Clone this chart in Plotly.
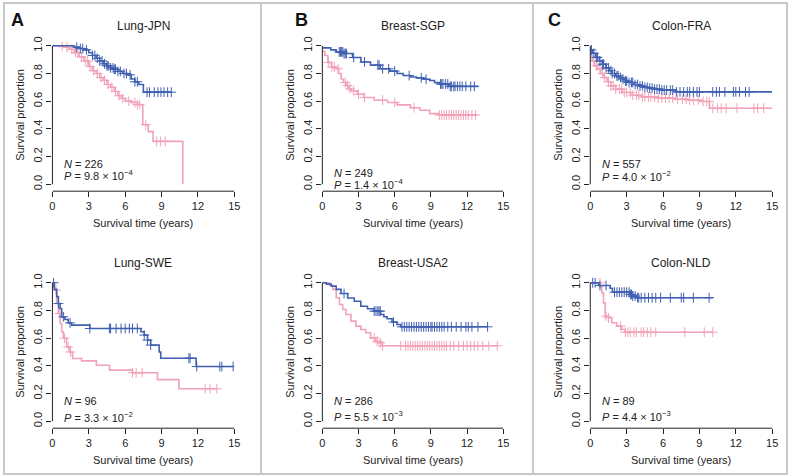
import plotly.graph_objects as go

# panel titles / stats (reading order: top row A B C, bottom row A B C)
titles = ["Lung-JPN", "Breast-SGP", "Colon-FRA", "Lung-SWE", "Breast-USA2", "Colon-NLD"]
n_values = [226, 249, 557, 96, 286, 89]
p_mant = ["9.8", "1.4", "4.0", "3.3", "5.5", "4.4"]
p_exp = ["4", "4", "2", "2", "3", "3"]
letters = ["A", "B", "C"]
x_ticks = [0, 3, 6, 9, 12, 15]
y_ticks = [0.0, 0.2, 0.4, 0.6, 0.8, 1.0]

# Lung-JPN
a_blue_t = [0, 1.8, 2.2, 2.6, 3.0, 3.3, 3.6, 3.9, 4.2, 4.5, 4.8, 5.1, 5.4, 5.8, 6.2, 6.5, 6.8, 7.1, 7.5, 9.8]
a_blue_s = [1.0, 0.99, 0.98, 0.97, 0.95, 0.93, 0.91, 0.89, 0.87, 0.855, 0.84, 0.83, 0.815, 0.80, 0.79, 0.76, 0.74, 0.72, 0.665, 0.665]
a_blue_c = [2.0, 2.3, 2.5, 2.8, 3.3, 3.5, 3.7, 3.9, 4.1, 4.3, 4.5, 4.6, 4.8, 5.0, 5.1, 5.2, 5.4, 5.6, 5.9, 6.1, 6.4, 6.8, 7.0,
            7.8, 8.0, 8.4, 8.7, 8.95, 9.2, 9.5, 9.8]
a_pink_t = [0, 0.6, 1.0, 1.4, 1.8, 2.2, 2.6, 3.0, 3.3, 3.6, 3.9, 4.2, 4.5, 4.8, 5.1, 5.4, 5.7, 6.0, 6.5, 7.0, 7.45, 7.9, 8.3, 10.75]
a_pink_s = [1.0, 0.995, 0.99, 0.975, 0.95, 0.92, 0.89, 0.85, 0.82, 0.80, 0.77, 0.75, 0.72, 0.70, 0.67, 0.64, 0.62, 0.60, 0.59, 0.575, 0.43, 0.38, 0.31, 0.0]
a_pink_c = [0.8, 1.2, 1.6, 1.9, 2.1, 2.4, 2.7, 2.9, 3.1, 3.4, 3.7, 4.0, 4.3, 4.6, 4.9, 5.2, 5.5, 5.8, 6.3, 6.8, 7.0, 7.2,
            7.7, 8.6, 8.9, 9.3]

# Breast-SGP
b_blue_t = [0, 0.7, 1.15, 1.8, 2.5, 3.2, 4.0, 4.8, 5.6, 6.2, 6.7, 7.3, 7.8, 8.4, 8.9, 9.3, 9.7, 10.5, 12.9]
b_blue_s = [0.985, 0.97, 0.956, 0.944, 0.915, 0.883, 0.86, 0.834, 0.817, 0.80, 0.785, 0.775, 0.768, 0.758, 0.749, 0.735, 0.724, 0.707, 0.707]
b_blue_c = [1.4, 1.5, 1.6, 1.7, 1.8, 1.9, 2.0, 2.6, 3.5, 4.6, 4.7, 5.0, 5.5, 6.0, 7.2, 8.2, 8.6, 9.8, 9.9, 10.0, 10.2, 10.4,
            10.6, 10.7, 10.9, 11.0, 11.2, 11.4, 11.6, 11.9, 12.3, 12.6]
b_pink_t = [0, 0.2, 0.46, 0.74, 1.15, 1.35, 1.55, 1.75, 1.96, 2.2, 2.4, 2.9, 3.46, 4.3, 5.4, 6.2, 7.3, 8.1, 8.9, 9.7, 12.8]
b_pink_s = [0.96, 0.93, 0.88, 0.846, 0.834, 0.80, 0.76, 0.735, 0.712, 0.69, 0.675, 0.65, 0.627, 0.607, 0.59, 0.573, 0.553, 0.534, 0.51, 0.50, 0.50]
b_pink_c = [0.5, 0.8, 1.0, 1.3, 1.9, 2.1, 2.3, 2.6, 3.0, 3.5, 5.0, 6.0, 7.6, 9.7, 9.9, 10.1, 10.3, 10.5, 10.7, 10.9, 11.1,
            11.3, 11.5, 11.7, 11.9, 12.1, 12.4, 12.7]

# Colon-FRA
c_blue_t = [0, 0.2, 0.46, 0.75, 1.0, 1.3, 1.55, 1.8, 2.1, 2.4, 2.64, 2.9, 3.2, 3.6, 4.0, 4.4, 4.8, 5.3, 5.9, 7.0, 15.0]
c_blue_s = [0.97, 0.945, 0.916, 0.89, 0.867, 0.84, 0.82, 0.80, 0.783, 0.77, 0.759, 0.745, 0.735, 0.72, 0.71, 0.70, 0.694, 0.687, 0.68, 0.667, 0.667]
c_blue_c = [0.1, 0.3, 0.5, 0.6, 0.8, 1.0, 1.1, 1.3, 1.5, 1.7, 1.8, 2.0, 2.2, 2.3, 2.5, 2.7, 2.9, 3.0, 3.2, 3.4, 3.5, 3.7,
            3.9, 4.1, 4.3, 4.5, 4.7, 4.9, 5.1, 5.3, 5.5, 5.7, 5.9, 6.1, 6.3, 6.6, 6.8, 7.1, 7.4, 7.7, 8.0, 8.2, 8.5,
            8.8, 9.0, 10.1, 10.4, 10.65, 11.1, 11.8, 12.0, 12.3, 12.8, 13.1]
c_pink_t = [0, 0.15, 0.33, 0.6, 0.85, 1.14, 1.4, 1.7, 2.1, 2.64, 3.45, 4.27, 5.6, 7.0, 8.07, 9.16, 9.84, 15.0]
c_pink_s = [0.928, 0.89, 0.855, 0.83, 0.80, 0.77, 0.74, 0.71, 0.687, 0.663, 0.643, 0.631, 0.622, 0.614, 0.607, 0.598, 0.549, 0.549]
c_pink_c = [0.3, 0.5, 0.8, 1.0, 1.2, 1.5, 1.7, 1.9, 2.1, 2.4, 2.6, 2.8, 3.0, 3.3, 3.5, 3.8, 4.0, 4.3, 4.5, 4.8, 5.0, 5.3,
            5.6, 5.9, 6.2, 6.5, 6.8, 7.2, 7.6, 7.9, 8.2, 8.5, 8.9, 9.3, 9.6, 9.8, 10.1, 10.5, 10.8, 11.2, 12.1, 13.5,
            13.8, 14.3]

# Lung-SWE
d_blue_t = [0, 0.16, 0.35, 0.49, 0.63, 0.76, 1.03, 1.3, 1.58, 3.08, 7.3, 7.57, 7.84, 8.1, 8.8, 8.93, 11.85, 14.9]
d_blue_s = [1.0, 0.952, 0.9, 0.85, 0.814, 0.754, 0.735, 0.71, 0.694, 0.67, 0.646, 0.622, 0.586, 0.55, 0.5, 0.455, 0.395, 0.395]
d_blue_c = [0.1, 0.5, 0.9, 1.45, 3.08, 4.7, 4.8, 5.25, 5.66, 6.0, 6.34, 6.6, 7.0, 7.57, 7.84, 8.1, 11.25, 11.35, 11.9,
            13.8, 13.97, 14.9]
d_pink_t = [0, 0.16, 0.35, 0.49, 0.63, 0.76, 0.9, 1.17, 1.44, 1.66, 2.4, 3.62, 4.71, 6.6, 8.66, 10.43, 13.6]
d_pink_s = [1.0, 0.947, 0.85, 0.778, 0.706, 0.646, 0.6, 0.537, 0.5, 0.453, 0.436, 0.405, 0.369, 0.35, 0.301, 0.235, 0.235]
d_pink_c = [0.3, 0.6, 1.0, 1.3, 1.5, 6.6, 6.9, 7.4, 12.6, 13.0, 13.55]

# Breast-USA2
e_blue_t = [0, 0.33, 0.74, 1.15, 1.55, 2.1, 2.65, 3.19, 3.74, 4.28, 4.83, 5.1, 5.37, 5.78, 6.19, 6.5, 13.7]
e_blue_s = [1.0, 0.99, 0.976, 0.952, 0.922, 0.89, 0.867, 0.83, 0.812, 0.795, 0.771, 0.755, 0.74, 0.716, 0.699, 0.682, 0.682]
e_blue_c = [1.8, 4.3, 4.45, 4.6, 4.7, 4.8, 5.9, 6.6, 6.8, 7.0, 7.2, 7.4, 7.6, 7.8, 8.0, 8.2, 8.4, 8.6, 8.8, 9.0, 9.1, 9.3,
            9.5, 9.7, 9.9, 10.1, 10.4, 10.7, 11.1, 11.5, 11.9, 12.1, 12.4, 12.9, 13.7]
e_pink_t = [0, 0.6, 0.87, 1.15, 1.42, 1.69, 1.96, 2.37, 2.78, 3.19, 3.6, 4.0, 4.42, 4.69, 4.96, 14.5]
e_pink_s = [1.0, 0.98, 0.952, 0.892, 0.843, 0.807, 0.771, 0.723, 0.687, 0.663, 0.639, 0.602, 0.578, 0.566, 0.545, 0.545]
e_pink_c = [4.3, 4.55, 4.8, 5.0, 6.5, 6.9, 7.1, 7.3, 7.5, 7.7, 7.9, 8.1, 8.3, 8.5, 8.7, 8.9, 9.1, 9.3, 9.5, 9.7, 9.9,
            10.1, 10.3, 10.6, 10.9, 11.3, 11.7, 12.0, 12.3, 12.6, 12.9, 13.3, 13.8, 14.5]

# Colon-NLD
f_blue_t = [0, 0.68, 1.64, 1.83, 3.27, 3.46, 3.82, 10.1]
f_blue_s = [1.0, 0.98, 0.96, 0.932, 0.916, 0.904, 0.892, 0.892]
f_blue_c = [0.2, 0.4, 0.8, 1.3, 2.0, 2.2, 2.4, 2.6, 2.8, 3.0, 3.2, 3.3, 3.4, 3.5, 3.7, 3.9, 4.0, 4.2, 4.5, 4.8, 5.1,
            5.4, 5.8, 6.6, 7.5, 7.7, 8.5, 9.8]
f_pink_t = [0, 0.82, 0.95, 1.09, 1.23, 1.5, 1.77, 2.18, 2.59, 2.86, 10.1]
f_pink_s = [1.0, 0.97, 0.928, 0.855, 0.759, 0.747, 0.711, 0.687, 0.663, 0.643, 0.643]
f_pink_c = [0.8, 1.3, 1.5, 2.5, 2.9, 3.1, 3.3, 3.6, 3.8, 4.2, 4.4, 4.7, 5.0, 5.4, 7.8, 9.4, 10.1]

curves = [
    (a_blue_t, a_blue_s, a_blue_c, a_pink_t, a_pink_s, a_pink_c),
    (b_blue_t, b_blue_s, b_blue_c, b_pink_t, b_pink_s, b_pink_c),
    (c_blue_t, c_blue_s, c_blue_c, c_pink_t, c_pink_s, c_pink_c),
    (d_blue_t, d_blue_s, d_blue_c, d_pink_t, d_pink_s, d_pink_c),
    (e_blue_t, e_blue_s, e_blue_c, e_pink_t, e_pink_s, e_pink_c),
    (f_blue_t, f_blue_s, f_blue_c, f_pink_t, f_pink_s, f_pink_c),
]

BLUE = "#3f5fb0"
PINK = "#f2a2b8"
FONT = "Liberation Sans, Arial, sans-serif"
W, H = 794, 476

# pixel layout of the plot regions
col_px = [(50, 234), (323, 506), (594, 778)]
row_px = [(37, 190), (275, 428)]
text_y = [(0.15, 0.065), (0.08, 0.0), (0.145, 0.06), (0.15, 0.03), (0.145, 0.035), (0.145, 0.04)]


def surv_at(ts, ss, t):
    val = ss[0]
    for ti, si in zip(ts, ss):
        if ti <= t:
            val = si
    return val


fig = go.Figure()
layout = {}
shapes = []
annotations = []

for i in range(6):
    r, c = divmod(i, 3)
    n = i + 1
    sfx = "" if n == 1 else str(n)
    xa, ya = "x" + sfx, "y" + sfx
    x0, x1 = col_px[c]
    y0, y1 = row_px[r]
    bt, bs, bc, pt, ps, pc = curves[i]

    for t, s, cens, col in [(pt, ps, pc, PINK), (bt, bs, bc, BLUE)]:
        fig.add_trace(go.Scatter(x=t, y=s, mode="lines", line=dict(color=col, width=1.6, shape="hv"),
                                 xaxis=xa, yaxis=ya, showlegend=False, hoverinfo="skip"))
        fig.add_trace(go.Scatter(x=cens, y=[surv_at(t, s, v) for v in cens], mode="markers",
                                 marker=dict(symbol="cross-thin", size=7, line=dict(color=col, width=1)),
                                 xaxis=xa, yaxis=ya, showlegend=False, hoverinfo="skip"))

    layout["xaxis" + sfx] = dict(domain=[x0 / W, x1 / W], range=[0, 15], anchor=ya, showline=False,
                                 showgrid=False, zeroline=False, ticks="outside", ticklen=5, tickwidth=1,
                                 tickcolor="#222", tickvals=x_ticks, tickfont=dict(size=11, color="#222"))
    layout["yaxis" + sfx] = dict(domain=[1 - y1 / H, 1 - y0 / H], range=[-0.05, 1.05], anchor=xa, showline=False,
                                 showgrid=False, zeroline=False, ticks="outside", ticklen=5, tickwidth=1,
                                 tickcolor="#222", tickvals=y_ticks, tickformat=".1f", tickangle=-90,
                                 tickfont=dict(size=11, color="#222"))

    # R-style axis lines spanning only the tick range
    shapes.append(dict(type="line", xref=xa, yref=ya + " domain", x0=0, x1=15, y0=0, y1=0,
                       line=dict(color="#222", width=1)))
    shapes.append(dict(type="line", xref=xa + " domain", yref=ya, x0=0, x1=0, y0=0, y1=1,
                       line=dict(color="#222", width=1)))

    cx = (x0 + x1) / 2 / W
    annotations.append(dict(text=titles[i], x=cx, y=1 - (y0 - 13) / H, xref="paper", yref="paper",
                            xanchor="center", yanchor="middle", showarrow=False, font=dict(size=12, color="#222")))
    annotations.append(dict(text="Survival time (years)", x=cx, y=1 - (y1 + 32) / H, xref="paper", yref="paper",
                            xanchor="center", yanchor="middle", showarrow=False, font=dict(size=11, color="#222")))
    annotations.append(dict(text="Survival proportion", x=(x0 - 33) / W, y=1 - (y0 + y1) / 2 / H, xref="paper",
                            yref="paper", xanchor="center", yanchor="middle", showarrow=False, textangle=-90,
                            font=dict(size=11, color="#222")))
    ny, py = text_y[i]
    annotations.append(dict(text="<i>N</i> = %d" % n_values[i], x=0.8, y=ny, xref=xa, yref=ya, xanchor="left",
                            yanchor="middle", showarrow=False, font=dict(size=11, color="#222")))
    annotations.append(dict(text="<i>P</i> = %s × 10<sup>−%s</sup>" % (p_mant[i], p_exp[i]), x=0.8, y=py, xref=xa,
                            yref=ya, xanchor="left", yanchor="middle", showarrow=False,
                            font=dict(size=11, color="#222")))

# panel letters
for lab, xp in zip(letters, [15, 302, 558]):
    annotations.append(dict(text="<b>%s</b>" % lab, x=xp / W, y=1 - 18 / H, xref="paper", yref="paper",
                            xanchor="center", yanchor="middle", showarrow=False, font=dict(size=18, color="#111")))

# grey panel frames
for xv in [1, 261, 536, 793]:
    shapes.append(dict(type="line", xref="paper", yref="paper", x0=xv / W, x1=xv / W, y0=1 - 474 / H, y1=1,
                       line=dict(color="#c8c8c8", width=2)))
for yv in [1, 474]:
    shapes.append(dict(type="line", xref="paper", yref="paper", x0=0, x1=1, y0=1 - yv / H, y1=1 - yv / H,
                       line=dict(color="#c8c8c8", width=2)))

fig.update_layout(width=W, height=H, margin=dict(l=0, r=0, t=0, b=0), paper_bgcolor="white",
                  plot_bgcolor="white", font=dict(family=FONT), shapes=shapes, annotations=annotations, **layout)

fig.write_html("out.html", config={"displayModeBar": False},
               post_script="document.body.style.margin='0';")
